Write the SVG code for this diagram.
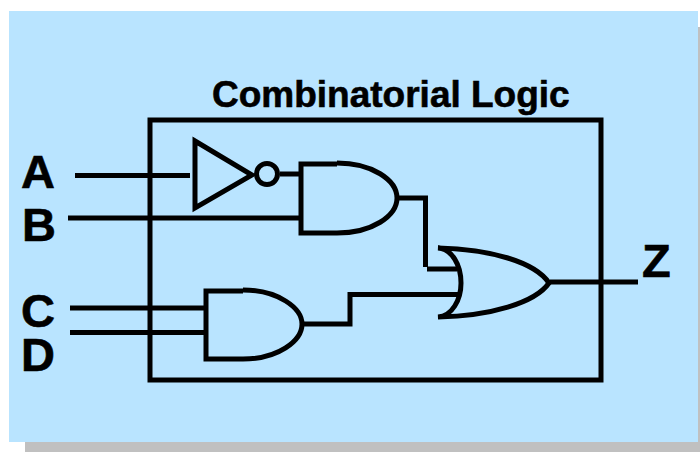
<svg xmlns="http://www.w3.org/2000/svg" width="700" height="452" viewBox="0 0 700 452">
<style>
.w{fill:none;stroke:#000;stroke-width:5;stroke-linejoin:miter}
.t{font-family:"Liberation Sans",Arial,sans-serif;font-weight:bold;fill:#000;stroke:#000;stroke-width:.6}
.p{font-size:47px}
</style>
<rect x="25" y="27" width="675" height="425" fill="#c0c0c0"/>
<rect x="9" y="11" width="689" height="431" fill="#b9e4ff"/>
<g id="box"><rect class="w" x="150" y="120" width="451" height="260"/><text class="t" x="212" y="107" font-size="37">Combinatorial Logic</text></g>
<g id="connectors">
<path class="w" d="M75 175.500H190"/>
<path class="w" d="M68 218H300"/>
<path class="w" d="M70 308H205"/>
<path class="w" d="M70 332.500H205"/>
<path class="w" d="M280 174H300"/>
<path class="w" d="M397 198H425.500V267"/>
<path class="w" d="M427 269H457"/>
<path class="w" d="M302 324H350V294.500H460"/>
<path class="w" d="M550 282H638"/>
</g>
<g id="inverter"><path class="w" d="M195 141V208L252 175Z"/><circle class="w" cx="267" cy="174" r="10.500"/></g>
<g id="and1"><path class="w" d="M337 163C372 163 397 180 397 198C397 216 372 233 337 233H301V164H337"/></g>
<g id="and2"><path class="w" d="M243 290C278 290 302 308 302 324C302 341 278 359 243 359H206V291H243"/></g>
<g id="or"><path class="w" stroke-linecap="round" d="M438 248C490 249 535 262 549 283C535 303 490 316 438 317C452 316 461 300 461 283C461 265 452 249 438 248Z"/></g>
<g id="labels">
<text class="t p" x="21" y="188">A</text>
<text class="t p" x="22" y="241">B</text>
<text class="t p" x="21" y="327">C</text>
<text class="t p" x="21" y="371">D</text>
<text class="t p" x="642" y="277">Z</text>
</g>
</svg>
